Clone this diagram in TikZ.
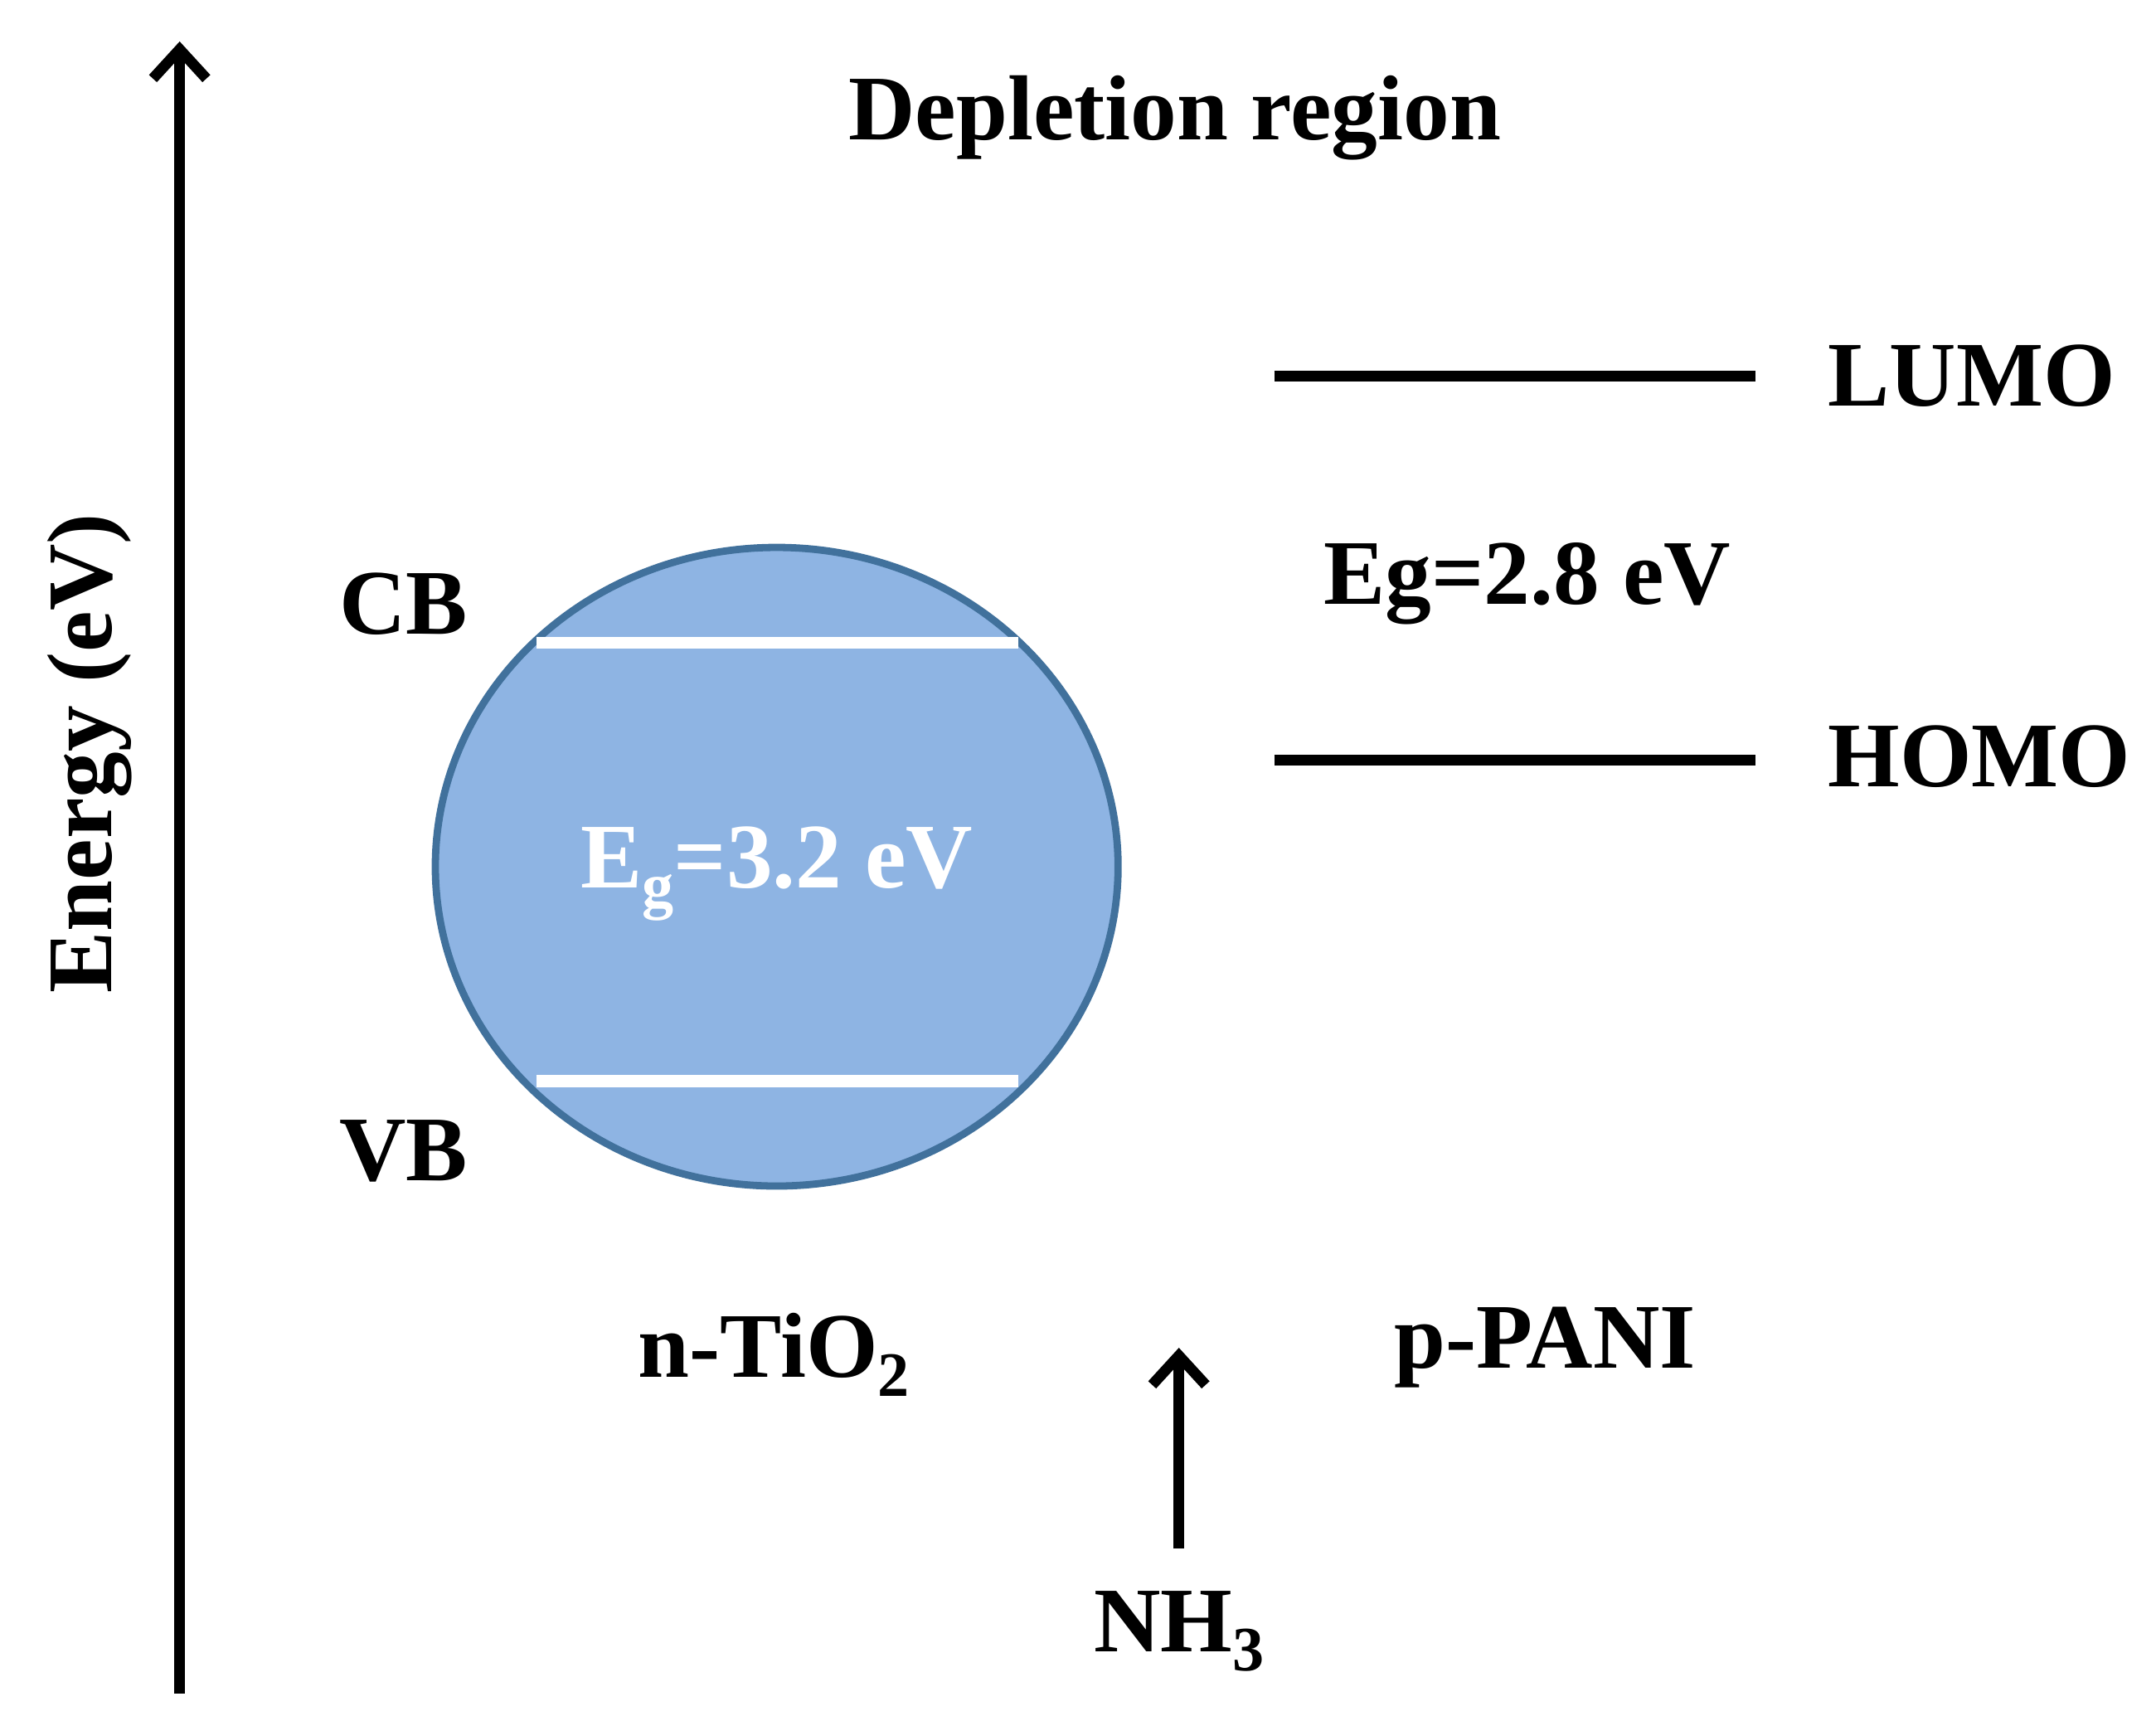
\documentclass[tikz,border=0pt]{standalone}
\usepackage{fontspec}
\setmainfont{Liberation Serif}
\usetikzlibrary{arrows.meta}
\definecolor{bandblue}{HTML}{8EB4E3}
\definecolor{bandedge}{HTML}{41719C}
\newcommand{\lowsub}[1]{\raisebox{-0.45ex}{\fontsize{13}{13}\selectfont #1}}
\begin{document}
\begin{tikzpicture}[x=0.01cm,y=-0.01cm]
  \tikzstyle{lbl}=[font=\fontsize{19}{22}\selectfont\bfseries,inner sep=0pt]
  \tikzstyle{level}=[draw,line width=2.2pt,-]
  \tikzstyle{arr}=[draw,line width=2.2pt,-{Straight Barb[length=6pt,width=11pt,line width=2.2pt]}]
  \useasboundingbox (0,0) rectangle (1560,1241);

    % energy axis
    \coordinate (ebot) at (130,1225);
    \coordinate (etop) at (130,30);
    \path[arr] (ebot) -- (etop);
    \node[lbl,rotate=90] (energy) at (65,545) {Energy (eV)};
    \node[lbl] (depl) at (850,85) {Depletion region};

    % n-TiO2 particle
    \path[fill=bandblue,draw=bandedge,line width=1.5pt] (562,627) ellipse [x radius=247,y radius=231];
    \coordinate (cbl) at (388,465); \coordinate (cbr) at (737,465);
    \coordinate (vbl) at (388,782); \coordinate (vbr) at (737,782);
    \path[draw=white,line width=2.5pt] (cbl) -- (cbr);
    \path[draw=white,line width=2.5pt] (vbl) -- (vbr);
    \node[lbl,text=white] (egt) at (562,632) {E\lowsub{g}=3.2 eV};
    \node[lbl] (cb) at (292,437) {CB};
    \node[lbl] (vb) at (292,833) {VB};
    \node[lbl] (ntio) at (560,980) {n-TiO\lowsub{2}};

    % p-PANI levels
    \coordinate (lumol) at (922,272); \coordinate (lumor) at (1270,272);
    \coordinate (homol) at (922,550); \coordinate (homor) at (1270,550);
    \path[level] (lumol) -- (lumor);
    \path[level] (homol) -- (homor);
    \node[lbl,anchor=west] (lumo) at (1322,272) {LUMO};
    \node[lbl,anchor=west] (homo) at (1322,547) {HOMO};
    \node[lbl] (egp) at (1105,422) {Eg=2.8 eV};
    \node[lbl] (pani) at (1118,975) {p-PANI};

    % gas
    \node[lbl] (nh) at (853,1180) {NH\lowsub{3}};
    \coordinate (nhtop) at (853,975);
    \path[arr] (853,1120) -- (nhtop);
\end{tikzpicture}
\end{document}
